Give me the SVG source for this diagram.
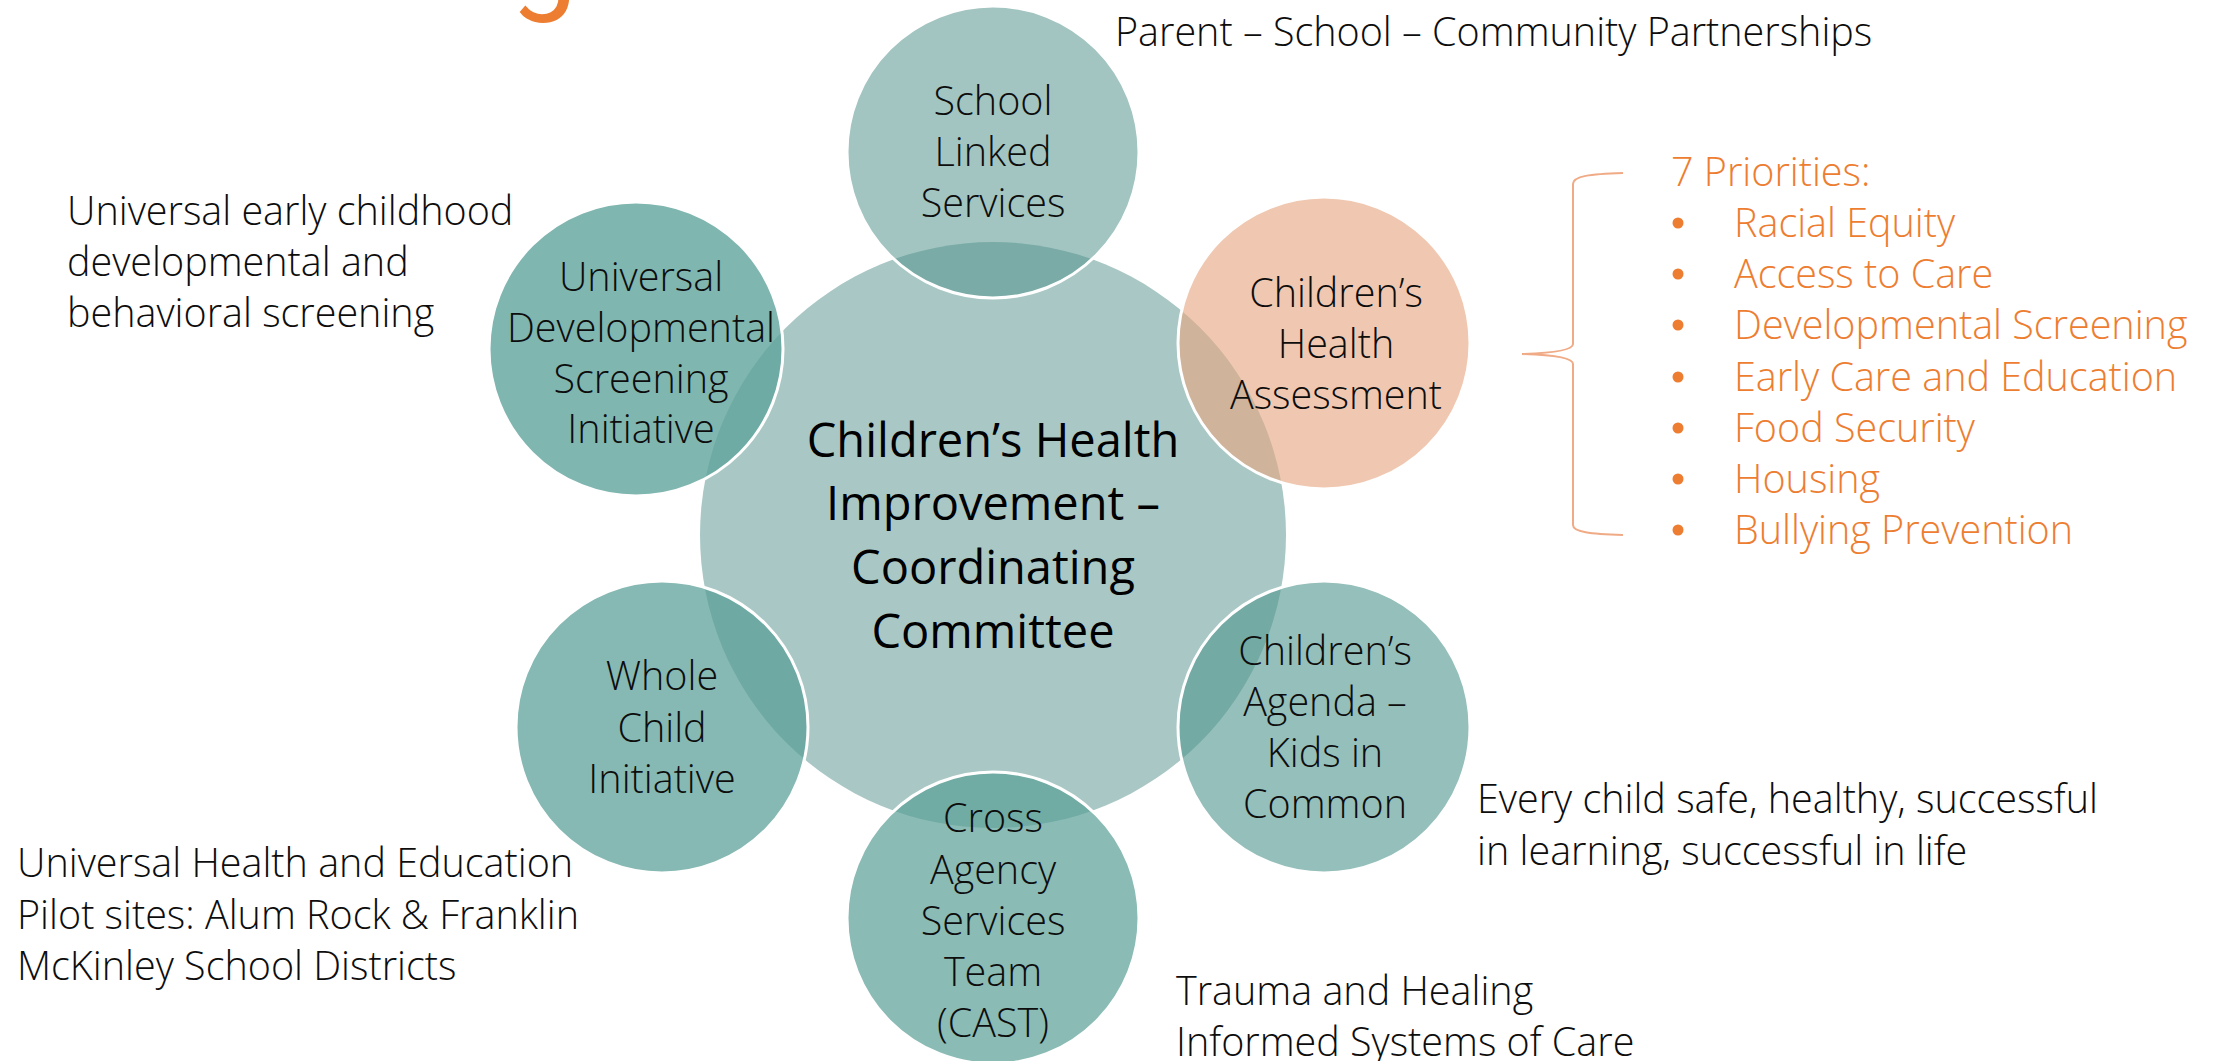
<svg xmlns="http://www.w3.org/2000/svg" width="2213" height="1061" viewBox="0 0 2213 1061">
<style>
.t{font-family:"Open Sans","Liberation Sans",sans-serif;font-weight:300;font-size:39.5px;fill:#0d0d0d}
.c{text-anchor:middle}
.big{font-family:"Open Sans","Liberation Sans",sans-serif;font-weight:400;font-size:47px;fill:#000;text-anchor:middle}
.o{font-family:"Open Sans","Liberation Sans",sans-serif;font-weight:300;font-size:39.5px;fill:#ed7d31}
.sat{stroke:#fff;stroke-width:3}
</style>
<rect width="2213" height="1061" fill="#fff"/>
<text x="511" y="-2" style="font-family:Roboto,'Liberation Sans',sans-serif;font-size:118px;fill:#ed7d31">g</text>

<g id="center">
<circle cx="993" cy="535" r="293" fill="#a9c8c5"/>
</g>
<g id="school-linked">
<circle class="sat" cx="993" cy="152" r="146" fill="#51928a" fill-opacity="0.535"/>
<text class="t c"><tspan x="993" y="115">School</tspan><tspan x="993" y="166">Linked</tspan><tspan x="993" y="217">Services</tspan></text>
</g>
<g id="universal-dev">
<circle class="sat" cx="636" cy="349" r="147" fill="#60a49c" fill-opacity="0.8"/>
<text class="t c"><tspan x="641" y="291">Universal</tspan><tspan x="641" y="342">Developmental</tspan><tspan x="641" y="393">Screening</tspan><tspan x="641" y="443">Initiative</tspan></text>
</g>
<g id="childrens-health-assessment">
<circle class="sat" cx="1324" cy="343" r="146" fill="#e7a680" fill-opacity="0.615"/>
<text class="t c"><tspan x="1336" y="307">Children’s</tspan><tspan x="1336" y="358">Health</tspan><tspan x="1336" y="409">Assessment</tspan></text>
</g>
<g id="whole-child">
<circle class="sat" cx="662" cy="727" r="146" fill="#579e95" fill-opacity="0.72"/>
<text class="t c"><tspan x="662" y="690">Whole</tspan><tspan x="662" y="742">Child</tspan><tspan x="662" y="793">Initiative</tspan></text>
</g>
<g id="childrens-agenda">
<circle class="sat" cx="1324" cy="727" r="146" fill="#54988f" fill-opacity="0.62"/>
<text class="t c"><tspan x="1325" y="665">Children’s</tspan><tspan x="1325" y="716">Agenda –</tspan><tspan x="1325" y="767">Kids in</tspan><tspan x="1325" y="818">Common</tspan></text>
</g>
<g id="cast">
<circle class="sat" cx="993" cy="918" r="146" fill="#599e95" fill-opacity="0.7"/>
<text class="t c"><tspan x="993" y="832">Cross</tspan><tspan x="993" y="884">Agency</tspan><tspan x="993" y="935">Services</tspan><tspan x="993" y="986">Team</tspan><tspan x="993" y="1037">(CAST)</tspan></text>
</g>
<g id="center-label">
<text class="big"><tspan x="993" y="457">Children’s Health</tspan><tspan x="993" y="520">Improvement –</tspan><tspan x="993" y="584">Coordinating</tspan><tspan x="993" y="648">Committee</tspan></text>
</g>

<g id="notes">
<text class="t" x="1115" y="46">Parent – School – Community Partnerships</text>
<text class="t"><tspan x="67" y="225">Universal early childhood</tspan><tspan x="67" y="276">developmental and</tspan><tspan x="67" y="327">behavioral screening</tspan></text>
<text class="t"><tspan x="17" y="877">Universal Health and Education</tspan><tspan x="17" y="929">Pilot sites: Alum Rock &amp; Franklin</tspan><tspan x="17" y="980">McKinley School Districts</tspan></text>
<text class="t"><tspan x="1477" y="813">Every child safe, healthy, successful</tspan><tspan x="1477" y="865">in learning, successful in life</tspan></text>
<text class="t"><tspan x="1176" y="1005">Trauma and Healing</tspan><tspan x="1176" y="1056">Informed Systems of Care</tspan></text>
</g>

<g id="priorities">
<path d="M1623,173 C1590,174 1573,176 1573,184 L1573,344 C1573,350 1555,353 1522,354 C1555,355 1573,358 1573,364 L1573,525 C1573,532 1590,534 1623,535" fill="none" stroke="#f0aa85" stroke-width="2"/>
<text class="o" x="1671" y="186">7 Priorities:</text>
<g fill="#ed7d31">
<circle cx="1678" cy="223" r="5.5"/><circle cx="1678" cy="274" r="5.5"/><circle cx="1678" cy="325" r="5.5"/><circle cx="1678" cy="377" r="5.5"/><circle cx="1678" cy="428" r="5.5"/><circle cx="1678" cy="479" r="5.5"/><circle cx="1678" cy="530" r="5.5"/>
</g>
<text class="o"><tspan x="1734" y="237">Racial Equity</tspan><tspan x="1734" y="288">Access to Care</tspan><tspan x="1734" y="339">Developmental Screening</tspan><tspan x="1734" y="391">Early Care and Education</tspan><tspan x="1734" y="442">Food Security</tspan><tspan x="1734" y="493">Housing</tspan><tspan x="1734" y="544">Bullying Prevention</tspan></text>
</g>
</svg>
